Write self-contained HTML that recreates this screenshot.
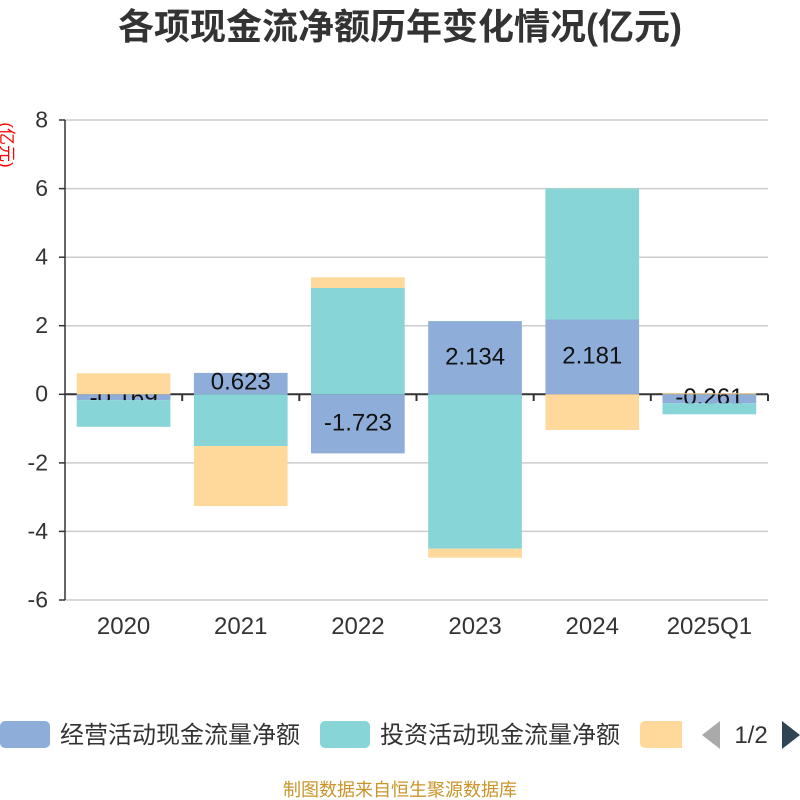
<!DOCTYPE html>
<html>
<head>
<meta charset="utf-8">
<style>
  html,body{margin:0;padding:0;background:#fff;}
  svg{display:block;}
  text{font-family:"Liberation Sans","Noto Sans CJK SC",sans-serif;}
</style>
</head>
<body>
<svg width="800" height="800" viewBox="0 0 800 800" xmlns="http://www.w3.org/2000/svg">
  <rect x="0" y="0" width="800" height="800" fill="#fff"/>
  <!-- Title -->
  <text x="400" y="39" text-anchor="middle" font-size="36" font-weight="bold" fill="#333">各项现金流净额历年变化情况(亿元)</text>

  <!-- Y axis name -->
  <text x="0" y="0" transform="translate(1,145) rotate(90)" text-anchor="middle" font-size="17" fill="#ff0000">(亿元)</text>

  <!-- Grid lines -->
  <g stroke="#cccccc" stroke-width="1.5">
    <line x1="65" y1="120" x2="768" y2="120"/>
    <line x1="65" y1="188.6" x2="768" y2="188.6"/>
    <line x1="65" y1="257.2" x2="768" y2="257.2"/>
    <line x1="65" y1="325.7" x2="768" y2="325.7"/>
    <line x1="65" y1="462.9" x2="768" y2="462.9"/>
    <line x1="65" y1="531.4" x2="768" y2="531.4"/>
    <line x1="65" y1="600" x2="768" y2="600"/>
  </g>

  <!-- Y axis -->
  <g stroke="#333" stroke-width="1.5">
    <line x1="65" y1="120" x2="65" y2="600"/>
    <line x1="59" y1="120" x2="65" y2="120"/>
    <line x1="59" y1="188.6" x2="65" y2="188.6"/>
    <line x1="59" y1="257.2" x2="65" y2="257.2"/>
    <line x1="59" y1="325.7" x2="65" y2="325.7"/>
    <line x1="59" y1="394.3" x2="65" y2="394.3"/>
    <line x1="59" y1="462.9" x2="65" y2="462.9"/>
    <line x1="59" y1="531.4" x2="65" y2="531.4"/>
    <line x1="59" y1="600" x2="65" y2="600"/>
  </g>
  <g font-size="23" fill="#333" text-anchor="end">
    <text x="48" y="127.5">8</text>
    <text x="48" y="196">6</text>
    <text x="48" y="264.6">4</text>
    <text x="48" y="333.1">2</text>
    <text x="48" y="401.7">0</text>
    <text x="48" y="470.3">-2</text>
    <text x="48" y="538.8">-4</text>
    <text x="48" y="607.4">-6</text>
  </g>

  <!-- X axis line and ticks -->
  <g stroke="#333" stroke-width="2">
    <line x1="65" y1="394.3" x2="768" y2="394.3"/>
    <line x1="182.2" y1="394.3" x2="182.2" y2="401"/>
    <line x1="299.3" y1="394.3" x2="299.3" y2="401"/>
    <line x1="416.5" y1="394.3" x2="416.5" y2="401"/>
    <line x1="533.7" y1="394.3" x2="533.7" y2="401"/>
    <line x1="650.8" y1="394.3" x2="650.8" y2="401"/>
    <line x1="768" y1="394.3" x2="768" y2="401"/>
  </g>

  <!-- Blue series (经营) -->
  <g fill="#8eaed9">
    <rect x="76.7" y="394.3" width="93.7" height="5.8"/>
    <rect x="193.9" y="372.9" width="93.7" height="21.4"/>
    <rect x="311.0" y="394.3" width="93.7" height="59.1"/>
    <rect x="428.2" y="321.1" width="93.7" height="73.2"/>
    <rect x="545.4" y="319.5" width="93.7" height="74.8"/>
    <rect x="662.5" y="394.3" width="93.7" height="8.9"/>
  </g>
  <g font-size="24" fill="#111" text-anchor="middle">
    <text x="123.6" y="405.5">-0.169</text>
    <text x="240.75" y="389.5">0.623</text>
    <text x="357.9" y="430.5">-1.723</text>
    <text x="475.1" y="364.5">2.134</text>
    <text x="592.25" y="363.5">2.181</text>
    <text x="709.4" y="405">-0.261</text>
  </g>

  <!-- Teal series (投资) -->
  <g fill="#88d5d8">
    <rect x="76.7" y="400.1" width="93.7" height="26.7"/>
    <rect x="193.9" y="394.3" width="93.7" height="51.8"/>
    <rect x="311.0" y="288.0" width="93.7" height="106.3"/>
    <rect x="428.2" y="394.3" width="93.7" height="154.4"/>
    <rect x="545.4" y="188.5" width="93.7" height="131"/>
    <rect x="662.5" y="403.2" width="93.7" height="11.1"/>
  </g>

  <!-- Orange series -->
  <g fill="#ffd99b">
    <rect x="76.7" y="373.3" width="93.7" height="21.0"/>
    <rect x="193.9" y="446.1" width="93.7" height="60"/>
    <rect x="311.0" y="277.3" width="93.7" height="10.7"/>
    <rect x="428.2" y="548.7" width="93.7" height="9"/>
    <rect x="545.4" y="394.3" width="93.7" height="35.7"/>
    <rect x="662.5" y="393.3" width="93.7" height="1"/>
  </g>

  <!-- X labels -->
  <g font-size="24" fill="#333" text-anchor="middle">
    <text x="123.6" y="634">2020</text>
    <text x="240.75" y="634">2021</text>
    <text x="357.9" y="634">2022</text>
    <text x="475.1" y="634">2023</text>
    <text x="592.25" y="634">2024</text>
    <text x="709.4" y="634">2025Q1</text>
  </g>

  <!-- Legend -->
  <defs>
    <clipPath id="clipO"><rect x="600" y="700" width="82" height="60"/></clipPath>
  </defs>
  <rect x="0" y="721" width="50" height="27" rx="5" fill="#8eaed9"/>
  <text x="60" y="743" font-size="24" fill="#333">经营活动现金流量净额</text>
  <rect x="320" y="721" width="50" height="27" rx="5" fill="#88d5d8"/>
  <text x="380" y="743" font-size="24" fill="#333">投资活动现金流量净额</text>
  <rect x="640" y="721" width="50" height="27" rx="5" fill="#ffd99b" clip-path="url(#clipO)"/>
  <polygon points="720,721 720,749 702,735" fill="#aaaaaa"/>
  <text x="751" y="743" font-size="24" fill="#333" text-anchor="middle">1/2</text>
  <polygon points="782,721 782,749 800,735" fill="#2f4554"/>

  <!-- Footer -->
  <text x="400" y="796" text-anchor="middle" font-size="18" fill="#c9952a">制图数据来自恒生聚源数据库</text>
</svg>
</body>
</html>
